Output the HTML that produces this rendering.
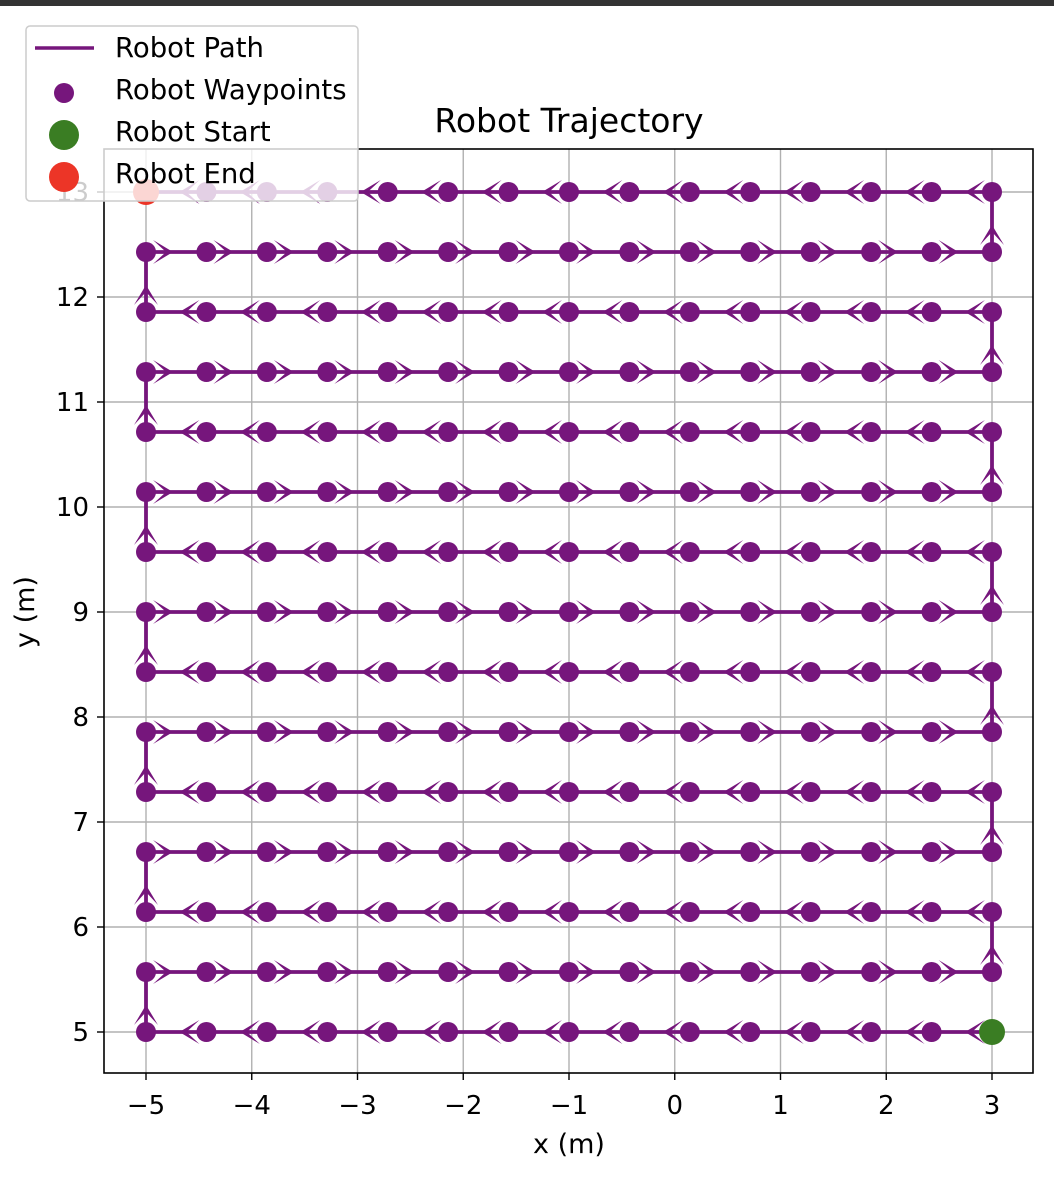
<!DOCTYPE html>
<html><head><meta charset="utf-8">
<style>
html,body{margin:0;padding:0;background:#fff;}
svg{display:block;font-family:"DejaVu Sans","Liberation Sans",sans-serif;}
</style></head>
<body>
<svg id="chart" width="1054" height="1178" viewBox="0 0 1054 1178" xmlns="http://www.w3.org/2000/svg">
<rect x="0" y="0" width="1054" height="6" fill="#333"/>
<g id="grid"></g>
<g id="plot"></g>
<rect x="104" y="149" width="929" height="924" fill="none" stroke="#000" stroke-width="1.6"/>
<g id="ticks"></g>
<text x="569" y="132" style="font-size:33px" text-anchor="middle">Robot Trajectory</text>
<text x="569" y="1153" style="font-size:27px" text-anchor="middle">x (m)</text>
<text transform="translate(34,612) rotate(-90)" style="font-size:27px" text-anchor="middle">y (m)</text>
<g>
<rect x="26" y="26" width="332" height="175" rx="4" fill="#fff" fill-opacity="0.8" stroke="#ccc" stroke-width="1.5"/>
<line x1="35" y1="48" x2="94" y2="48" stroke="#76167c" stroke-width="3.5"/>
<text x="115" y="57" style="font-size:27.5px">Robot Path</text>
<circle cx="64" cy="93" r="10" fill="#76167c"/>
<text x="115" y="99" style="font-size:27.5px">Robot Waypoints</text>
<circle cx="64" cy="135" r="15" fill="#3a7d23"/>
<text x="115" y="141" style="font-size:27.5px">Robot Start</text>
<circle cx="64" cy="177" r="15" fill="#ec3527"/>
<text x="115" y="183" style="font-size:27.5px">Robot End</text>
</g>
</svg>
<script>
const gridXValues = [-5, -4.4286, -3.8571, -3.2857, -2.7143, -2.1429, -1.5714, -1, -0.4286, 0.1429, 0.7143, 1.2857, 1.8571, 2.4286, 3];
const gridYValues = [5, 5.5714, 6.1429, 6.7143, 7.2857, 7.8571, 8.4286, 9, 9.5714, 10.1429, 10.7143, 11.2857, 11.8571, 12.4286, 13];
const xTicks = [-5, -4, -3, -2, -1, 0, 1, 2, 3];
const yTicks = [5, 6, 7, 8, 9, 10, 11, 12, 13];
const xTickLabels = ["\u22125","\u22124","\u22123","\u22122","\u22121","0","1","2","3"];
const yTickLabels = ["5","6","7","8","9","10","11","12","13"];

const NS = "http://www.w3.org/2000/svg";
const X = v => 146 + (v + 5) * 105.75;
const Y = v => 1032 - (v - 5) * 105;
function mk(tag, attrs, parent){const e=document.createElementNS(NS,tag);for(const k in attrs)e.setAttribute(k,attrs[k]);parent.appendChild(e);return e;}
const grid=document.getElementById('grid'), plot=document.getElementById('plot'), ticks=document.getElementById('ticks');
const C="#76167c";

xTicks.forEach((t,i)=>{
  const g=mk('line',{x1:X(t),x2:X(t),y1:149,y2:1073,stroke:'#b0b0b0','stroke-width':1.4},grid);
  
  
  const tk=mk('line',{x1:X(t),x2:X(t),y1:1073,y2:1080,stroke:'#000','stroke-width':1.4},ticks);
  
  
  const tl=mk('text',{x:X(t),y:1114,style:'font-size:26px','text-anchor':'middle'},ticks);
  tl.textContent=xTickLabels[i];
  
  
});
yTicks.forEach((t,i)=>{
  const g=mk('line',{x1:104,x2:1033,y1:Y(t),y2:Y(t),stroke:'#b0b0b0','stroke-width':1.4},grid);
  
  
  const tk=mk('line',{x1:97,x2:104,y1:Y(t),y2:Y(t),stroke:'#000','stroke-width':1.4},ticks);
  
  
  const tl=mk('text',{x:89,y:Y(t)+9,style:'font-size:26px','text-anchor':'end'},ticks);
  tl.textContent=yTickLabels[i];
  
  
});

const pts=[];
gridYValues.forEach((y,r)=>{
  const row = r%2===0 ? gridXValues.slice().reverse() : gridXValues.slice();
  row.forEach(x=>pts.push([x,y]));
});
const path=mk('polyline',{points:pts.map(p=>X(p[0])+','+Y(p[1])).join(' '),fill:'none',stroke:C,'stroke-width':3.8},plot);


pts.forEach((p,i)=>{
  const d=mk('circle',{cx:X(p[0]),cy:Y(p[1]),r:10,fill:C},plot);
  
  
});
for(let i=0;i<pts.length-1;i++){
  const x0=X(pts[i][0]),y0=Y(pts[i][1]),x1=X(pts[i+1][0]),y1=Y(pts[i+1][1]);
  const ang=Math.atan2(y1-y0,x1-x0)*180/Math.PI;
  const a=mk('polygon',{points:'27,0 7,-12 20,0 7,12',fill:C,transform:`translate(${x0},${y0}) rotate(${ang})`},plot);
  
  
}
const s=pts[0], e=pts[pts.length-1];
const sc=mk('circle',{cx:X(s[0]),cy:Y(s[1]),r:13,fill:'#3a7d23'},plot);


const ec=mk('circle',{cx:X(e[0]),cy:Y(e[1]),r:13,fill:'#ec3527'},plot);


</script>
</body></html>
